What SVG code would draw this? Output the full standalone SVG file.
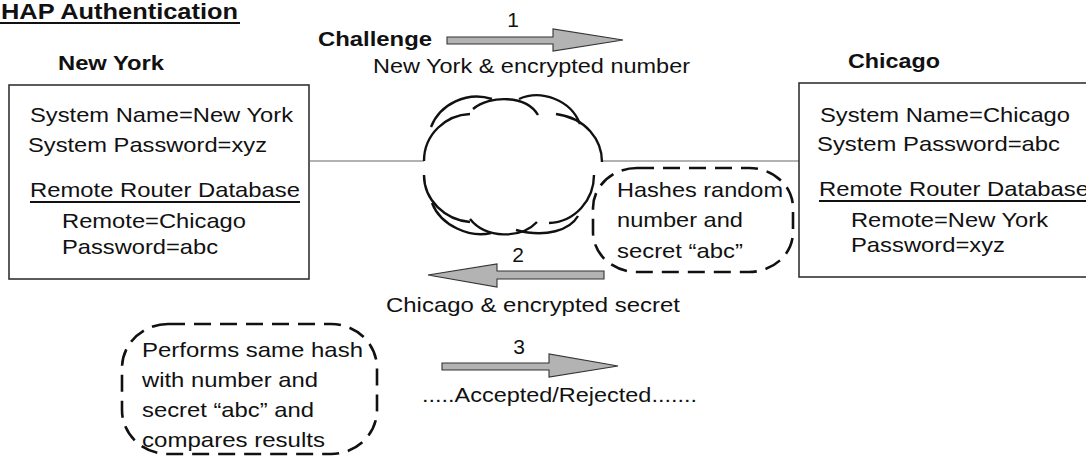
<svg xmlns="http://www.w3.org/2000/svg" width="1086" height="458" viewBox="0 0 1086 458">
  <style>
    text { font-family: "Liberation Sans", Arial, sans-serif; fill: #111; }
    .t { font-size: 21px; }
    .b { font-size: 21px; font-weight: bold; }
    .title { font-size: 22px; font-weight: bold; }
    .num { font-size: 21px; text-anchor: middle; }
    .box { fill: #fff; stroke: #333; stroke-width: 1.6; }
    .link { stroke: #666; stroke-width: 1.2; fill: none; }
    .ul { stroke: #111; stroke-width: 1.8; }
    .cloud { fill: none; stroke: #111; stroke-width: 2.4; stroke-linecap: butt; }
    .note { fill: none; stroke: #111; stroke-width: 2.6; stroke-dasharray: 17 9; }
    .arrow { fill: #b3b3b3; stroke: #333; stroke-width: 1.1; }
  </style>

  <!-- heading -->
  <g id="title">
    <text class="title" x="1" y="19" textLength="237" lengthAdjust="spacingAndGlyphs">HAP Authentication</text>
    <line class="ul" x1="0" y1="23" x2="240" y2="23"/>
  </g>

  <!-- links from the routers to the network -->
  <g id="connectors">
    <line class="link" x1="310" y1="161" x2="424" y2="161"/>
    <line class="link" x1="602" y1="161" x2="799" y2="161"/>
  </g>

  <!-- New York router -->
  <g id="newyork">
    <text class="b" x="58" y="70" textLength="106" lengthAdjust="spacingAndGlyphs">New York</text>
    <rect class="box" x="9" y="85" width="300" height="194"/>
    <text class="t" x="30" y="122" textLength="263" lengthAdjust="spacingAndGlyphs">System Name=New York</text>
    <text class="t" x="28" y="152" textLength="239" lengthAdjust="spacingAndGlyphs">System Password=xyz</text>
    <text class="t" x="30" y="197" textLength="270" lengthAdjust="spacingAndGlyphs">Remote Router Database</text>
    <line class="ul" x1="30" y1="202" x2="300" y2="202"/>
    <text class="t" x="62" y="228" textLength="184" lengthAdjust="spacingAndGlyphs">Remote=Chicago</text>
    <text class="t" x="62" y="254" textLength="156" lengthAdjust="spacingAndGlyphs">Password=abc</text>
  </g>

  <!-- Chicago router -->
  <g id="chicago">
    <text class="b" x="848" y="68" textLength="92" lengthAdjust="spacingAndGlyphs">Chicago</text>
    <rect class="box" x="799" y="83" width="300" height="194"/>
    <text class="t" x="820" y="122" textLength="250" lengthAdjust="spacingAndGlyphs">System Name=Chicago</text>
    <text class="t" x="817" y="151" textLength="243" lengthAdjust="spacingAndGlyphs">System Password=abc</text>
    <text class="t" x="819" y="196" textLength="270" lengthAdjust="spacingAndGlyphs">Remote Router Database</text>
    <line class="ul" x1="819" y1="201" x2="1089" y2="201"/>
    <text class="t" x="851" y="227" textLength="197" lengthAdjust="spacingAndGlyphs">Remote=New York</text>
    <text class="t" x="851" y="252" textLength="154" lengthAdjust="spacingAndGlyphs">Password=xyz</text>
  </g>

  <!-- network cloud -->
  <g id="cloud">
    <path class="cloud" d="M424,161 C424,134 446,115 470,114"/>
    <path class="cloud" d="M431,127 C440,104 467,91 492,99"/>
    <path class="cloud" d="M473,109 C490,95 526,95 538,115"/>
    <path class="cloud" d="M519,99 C541,89 571,100 580,124"/>
    <path class="cloud" d="M556,114 C586,118 602,140 602,162"/>
    <path class="cloud" d="M424,175 C424,200 445,220 470,222"/>
    <path class="cloud" d="M432,203 C441,226 470,238 491,233"/>
    <path class="cloud" d="M470,219 C486,239 521,239 537,222"/>
    <path class="cloud" d="M516,230 C546,238 570,230 578,216"/>
    <path class="cloud" d="M594,175 C594,200 575,222 549,223"/>
  </g>

  <!-- step 1: challenge -->
  <g id="step1">
    <text class="b" x="318" y="46" textLength="114" lengthAdjust="spacingAndGlyphs">Challenge</text>
    <text class="num" x="513" y="27">1</text>
    <polygon class="arrow" points="447,37 553,37 553,29 623,40 553,51 553,44 447,44"/>
    <text class="t" x="373" y="73" textLength="317" lengthAdjust="spacingAndGlyphs">New York &amp; encrypted number</text>
  </g>

  <!-- Chicago hashing note -->
  <g id="hash-note">
    <rect class="note" x="593" y="168" width="200" height="104" rx="44" ry="40"/>
    <text class="t" x="617" y="197" textLength="166" lengthAdjust="spacingAndGlyphs">Hashes random</text>
    <text class="t" x="617" y="227" textLength="126" lengthAdjust="spacingAndGlyphs">number and</text>
    <text class="t" x="617" y="258" textLength="126" lengthAdjust="spacingAndGlyphs">secret “abc”</text>
  </g>

  <!-- step 2: response -->
  <g id="step2">
    <text class="num" x="518" y="262">2</text>
    <polygon class="arrow" points="604,271 497,271 497,264 428,275 497,287 497,279 604,279"/>
    <text class="t" x="386" y="312" textLength="294" lengthAdjust="spacingAndGlyphs">Chicago &amp; encrypted secret</text>
  </g>

  <!-- New York verification note -->
  <g id="verify-note">
    <rect class="note" x="122" y="324" width="255" height="130" rx="46" ry="44"/>
    <text class="t" x="142" y="357" textLength="221" lengthAdjust="spacingAndGlyphs">Performs same hash</text>
    <text class="t" x="142" y="387" textLength="176" lengthAdjust="spacingAndGlyphs">with number and</text>
    <text class="t" x="142" y="417" textLength="172" lengthAdjust="spacingAndGlyphs">secret “abc” and</text>
    <text class="t" x="142" y="447" textLength="183" lengthAdjust="spacingAndGlyphs">compares results</text>
  </g>

  <!-- step 3: result -->
  <g id="step3">
    <text class="num" x="519" y="354">3</text>
    <polygon class="arrow" points="442,363 549,363 549,354 618,366 549,377 549,370 442,370"/>
    <text class="t" x="422" y="402" textLength="275" lengthAdjust="spacingAndGlyphs">.....Accepted/Rejected.......</text>
  </g>
</svg>
